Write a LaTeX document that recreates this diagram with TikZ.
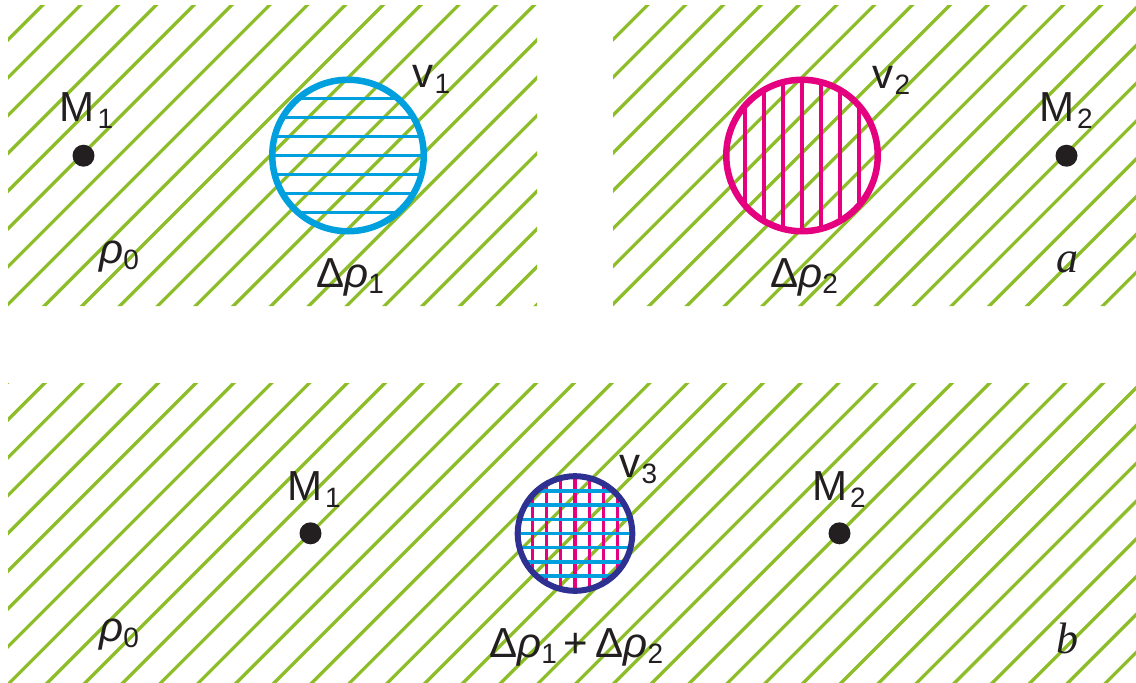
\documentclass[tikz,border=0pt]{standalone}
\usepackage{fontspec}
\setmainfont{Liberation Sans}
\newfontfamily\timesf{Liberation Serif}
\definecolor{hatchgreen}{RGB}{141,190,42}
\definecolor{cblue}{RGB}{0,160,223}
\definecolor{cmag}{RGB}{228,0,126}
\definecolor{cdark}{RGB}{46,49,146}
\definecolor{txt}{RGB}{35,31,32}
\newcommand\sbs[1]{\raisebox{-6.5pt}{\fontsize{28}{28}\selectfont\upshape #1}}
\newcommand\rh{{\itshape ρ}}
\begin{document}
\begin{tikzpicture}[x=1pt,y=-1pt,
  hatch/.style={draw=hatchgreen,line width=3.3pt},
  lbl/.style={inner sep=0pt,anchor=base west,text=txt,font=\fontsize{42}{48}\selectfont},
  dotst/.style={circle,fill=txt,inner sep=0pt,minimum size=22pt},
  ring/.style={line width=6.5pt},
  fillline/.style={line width=3.3pt}]
\useasboundingbox (0,0) rectangle (1136,683);
% ---------- hatching top panels
\begin{scope}
  \clip (8,5) rectangle (537,306) (613,5) rectangle (1136,306);
  \foreach \k in {0,...,40}{
    \draw[hatch] ({10+37.8*\k},0) -- ({10+37.8*\k-320},320);
  }
\end{scope}
% ---------- hatching bottom panel
\begin{scope}
  \clip (8,383) rectangle (1136,683);
  \foreach \k in {9,...,50}{
    \draw[hatch] ({12+37.8*\k-375},375) -- ({12+37.8*\k-690},690);
  }
\end{scope}
% ---------- circle v1
\begin{scope}
  \clip (348,155.5) circle[radius=75.75pt];
  \foreach \k in {-3,...,3}{
    \draw[fillline,cblue] (260,{155.5+19*\k}) -- (440,{155.5+19*\k});
  }
\end{scope}
\node[circle,draw=cblue,ring,minimum size=151.5pt,inner sep=0pt] (c1) at (348,155.5) {};
% ---------- circle v2
\begin{scope}
  \clip (802,155.5) circle[radius=75.75pt];
  \foreach \k in {-3,...,3}{
    \draw[fillline,cmag] ({802+19*\k},70) -- ({802+19*\k},240);
  }
\end{scope}
\node[circle,draw=cmag,ring,minimum size=151.5pt,inner sep=0pt] (c2) at (802,155.5) {};
% ---------- circle v3
\begin{scope}
  \clip (575,533.5) circle[radius=57.3pt];
  \foreach \k in {-3,...,3}{
    \draw[fillline,cmag] ({575+14.2*\k},470) -- ({575+14.2*\k},600);
  }
  \foreach \k in {-3,...,3}{
    \draw[fillline,cblue] (510,{533.5+14.2*\k}) -- (640,{533.5+14.2*\k});
  }
\end{scope}
\node[circle,draw=cdark,line width=6pt,minimum size=114.6pt,inner sep=0pt] (c3) at (575,533.5) {};
% ---------- dots
\node[dotst] (d1) at (83.5,155.7) {};
\node[dotst] (d2) at (1066.5,155.7) {};
\node[dotst] (d3) at (310.5,533.3) {};
\node[dotst] (d4) at (839.5,533.3) {};
% ---------- labels top
\node[lbl] (tM1) at (59.5,121.7) {M\hspace{3pt}\sbs{1}};
\node[lbl] (tM2) at (1039,121.7) {M\hspace{3pt}\sbs{2}};
\node[lbl] (tv1) at (412.5,87) {v\hspace{1pt}\sbs{1}};
\node[lbl] (tv2) at (872.5,88) {v\hspace{1pt}\sbs{2}};
\node[lbl] (tr0) at (99,263) {\rh\sbs{0}};
\node[lbl] (tdr1) at (316,287) {Δ\rh\sbs{1}};
\node[lbl] (tdr2) at (770,287) {Δ\rh\sbs{2}};
\node[lbl,font=\fontsize{44}{48}\selectfont\timesf\itshape] (ta) at (1056,272) {a};
% ---------- labels bottom
\node[lbl] (bM1) at (287,500.5) {M\hspace{3pt}\sbs{1}};
\node[lbl] (bM2) at (812,500.7) {M\hspace{3pt}\sbs{2}};
\node[lbl] (bv3) at (619.5,477) {v\hspace{1pt}\sbs{3}};
\node[lbl] (br0) at (99,641) {\rh\sbs{0}};
\node[lbl] (bsum) at (489,657) {Δ\rh\sbs{1}\hspace{7pt}+\hspace{7pt}Δ\rh\sbs{2}};
\node[lbl,font=\fontsize{44}{48}\selectfont\timesf\itshape] (tb) at (1056,653) {b};
\end{tikzpicture}
\end{document}
